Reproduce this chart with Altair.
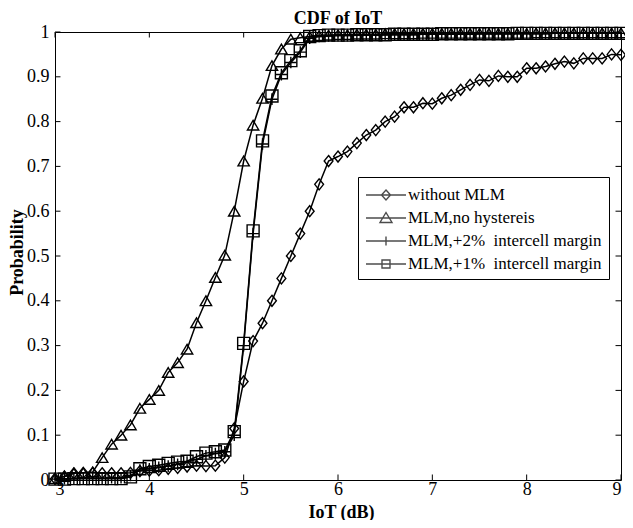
import altair as alt
import pandas as pd

iot_db = [3.0, 3.1, 3.2, 3.3, 3.4, 3.5, 3.6, 3.7, 3.8, 3.9,
          4.0, 4.1, 4.2, 4.3, 4.4, 4.5, 4.6, 4.7, 4.8, 4.9,
          5.0, 5.1, 5.2, 5.3, 5.4, 5.5, 5.6, 5.7, 5.8, 5.9,
          6.0, 6.1, 6.2, 6.3, 6.4, 6.5, 6.6, 6.7, 6.8, 6.9,
          7.0, 7.1, 7.2, 7.3, 7.4, 7.5, 7.6, 7.7, 7.8, 7.9,
          8.0, 8.1, 8.2, 8.3, 8.4, 8.5, 8.6, 8.7, 8.8, 8.9,
          9.0]

without_mlm = [0.003, 0.008, 0.015, 0.016, 0.016, 0.015, 0.015, 0.015, 0.016, 0.020,
               0.021, 0.022, 0.025, 0.027, 0.030, 0.032, 0.031, 0.032, 0.050, 0.115,
               0.220, 0.310, 0.350, 0.400, 0.450, 0.500, 0.550, 0.600, 0.660, 0.712,
               0.722, 0.733, 0.752, 0.770, 0.781, 0.800, 0.811, 0.832, 0.832, 0.841,
               0.840, 0.852, 0.859, 0.871, 0.882, 0.893, 0.891, 0.902, 0.900, 0.900,
               0.919, 0.919, 0.923, 0.929, 0.934, 0.930, 0.941, 0.941, 0.941, 0.950,
               0.949]

mlm_no_hyst = [0.003, 0.008, 0.015, 0.016, 0.018, 0.050, 0.080, 0.100, 0.123, 0.160,
               0.180, 0.200, 0.240, 0.262, 0.292, 0.351, 0.400, 0.452, 0.502, 0.600,
               0.712, 0.792, 0.852, 0.925, 0.962, 0.984, 0.987, 0.990, 0.992, 0.993,
               0.994, 0.994, 0.995, 0.995, 0.995, 0.996, 0.996, 0.996, 0.996, 0.997,
               0.997, 0.997, 0.997, 0.997, 0.997, 0.997, 0.997, 0.997, 0.997, 0.997,
               0.997, 0.998, 0.998, 0.998, 0.998, 0.998, 0.998, 0.998, 0.998, 0.998,
               0.998]

mlm_2pct = [0.002, 0.003, 0.003, 0.004, 0.004, 0.004, 0.005, 0.005, 0.010, 0.022,
            0.025, 0.028, 0.031, 0.035, 0.040, 0.046, 0.054, 0.059, 0.063, 0.100,
            0.300, 0.550, 0.750, 0.850, 0.905, 0.932, 0.955, 0.986, 0.990, 0.991,
            0.992, 0.992, 0.993, 0.993, 0.993, 0.994, 0.994, 0.994, 0.994, 0.995,
            0.995, 0.995, 0.995, 0.995, 0.995, 0.996, 0.996, 0.996, 0.996, 0.996,
            0.996, 0.996, 0.996, 0.997, 0.997, 0.997, 0.997, 0.997, 0.997, 0.997,
            0.997]

mlm_1pct = [0.002, 0.002, 0.003, 0.003, 0.003, 0.003, 0.003, 0.003, 0.007, 0.025,
            0.030, 0.033, 0.037, 0.040, 0.042, 0.052, 0.060, 0.063, 0.067, 0.108,
            0.305, 0.556, 0.757, 0.857, 0.909, 0.936, 0.958, 0.990, 0.992, 0.993,
            0.993, 0.993, 0.994, 0.994, 0.994, 0.994, 0.995, 0.995, 0.995, 0.995,
            0.995, 0.996, 0.996, 0.996, 0.996, 0.996, 0.996, 0.996, 0.996, 0.997,
            0.997, 0.997, 0.997, 0.997, 0.997, 0.997, 0.997, 0.997, 0.997, 0.997,
            0.997]

series_names = ["without MLM", "MLM,no hystereis",
                "MLM,+2%\u00a0 intercell margin", "MLM,+1%\u00a0 intercell margin"]
series_values = [without_mlm, mlm_no_hyst, mlm_2pct, mlm_1pct]

x_ticks = [3, 4, 5, 6, 7, 8, 9]
y_ticks = [0.0, 0.1, 0.2, 0.3, 0.4, 0.5, 0.6, 0.7, 0.8, 0.9, 1.0]

rows = []
for name, vals in zip(series_names, series_values):
    for xv, yv in zip(iot_db, vals):
        rows.append({"series": name, "x": xv, "y": yv})
df = pd.DataFrame(rows)

FONT = "Liberation Serif"

marker_paths = [
    "M0,-1L0.8,0L0,1L-0.8,0Z",
    "M0,-0.85L1,0.85L-1,0.85Z",
    "M-1,0L1,0M0,-1L0,1",
    "M-1,-1L1,-1L1,1L-1,1Z",
]
marker_sizes = [121, 144, 64, 81]
legend_paths = [
    "M-1,0L3,0M1,-0.5L1.45,0L1,0.5L0.55,0Z",
    "M-1,0L3,0M1,-0.55L1.6,0.45L0.4,0.45Z",
    "M-1,0L3,0M1,-0.45L1,0.45",
    "M-1,0L3,0M0.6,-0.4L1.4,-0.4L1.4,0.4L0.6,0.4Z",
]

W, H = 566, 448

xscale = alt.Scale(domain=[3, 9], nice=False, zero=False)
yscale = alt.Scale(domain=[0, 1], nice=False, zero=False)

xaxis = alt.Axis(values=x_ticks, format="d", title="IoT (dB)",
                 ticks=False, domain=False, grid=False,
                 labelPadding=0, titleX=286, titleY=37,
                 titleBaseline="alphabetic")
yaxis = alt.Axis(values=y_ticks, format=".1~f", title="Probability",
                 ticks=False, domain=False, grid=False,
                 labelPadding=6, titleX=-29, titleY=220)

x_enc = alt.X("x:Q", scale=xscale, axis=xaxis)
y_enc = alt.Y("y:Q", scale=yscale, axis=yaxis)

lines = alt.Chart(df).mark_line(color="black", strokeWidth=1.5).encode(
    x=x_enc, y=y_enc, detail="series:N", order="x:Q")

points = alt.Chart(df).mark_point(filled=False, color="black", strokeWidth=1.4, opacity=1).encode(
    x=x_enc, y=y_enc,
    shape=alt.Shape("series:N", scale=alt.Scale(domain=series_names, range=marker_paths), legend=None),
    size=alt.Size("series:N", scale=alt.Scale(domain=series_names, range=marker_sizes), legend=None),
)

legend_layer = alt.Chart(df).transform_filter("datum.y > 2").mark_point(
    filled=False, color="black", strokeWidth=1.4).encode(
    x=x_enc, y=y_enc,
    shape=alt.Shape("series:N", title=None,
                    scale=alt.Scale(domain=series_names, range=legend_paths),
                    legend=alt.Legend(orient="none", legendX=303, legendY=145,
                                      strokeColor="black", fillColor="white",
                                      padding=7, cornerRadius=0,
                                      symbolSize=400, symbolStrokeWidth=1.4,
                                      labelFont=FONT, labelFontSize=17, labelColor="black",
                                      labelOffset=21, rowPadding=4, labelLimit=400)),
)

xt = pd.DataFrame({"x": x_ticks})
yt = pd.DataFrame({"y": y_ticks})
tx = 0.058
ty = 0.0123
bottom_ticks = alt.Chart(xt).mark_rule(color="black", strokeWidth=1).encode(
    x=alt.X("x:Q", scale=xscale, axis=xaxis),
    y=alt.Y(datum=0, scale=yscale, axis=yaxis), y2=alt.Y2(datum=ty))
top_ticks = alt.Chart(xt).mark_rule(color="black", strokeWidth=1).encode(
    x=alt.X("x:Q", scale=xscale, axis=xaxis),
    y=alt.Y(datum=1, scale=yscale, axis=yaxis), y2=alt.Y2(datum=1 - ty))
left_ticks = alt.Chart(yt).mark_rule(color="black", strokeWidth=1).encode(
    y=alt.Y("y:Q", scale=yscale, axis=yaxis),
    x=alt.X(datum=3, scale=xscale, axis=xaxis), x2=alt.X2(datum=3 + tx))
right_ticks = alt.Chart(yt).mark_rule(color="black", strokeWidth=1).encode(
    y=alt.Y("y:Q", scale=yscale, axis=yaxis),
    x=alt.X(datum=9, scale=xscale, axis=xaxis), x2=alt.X2(datum=9 - tx))

chart = alt.layer(
    lines, points, legend_layer, bottom_ticks, top_ticks, left_ticks, right_ticks
).resolve_scale(
    shape="independent", size="independent"
).properties(
    width=W, height=H,
    autosize=alt.AutoSizeParams(type="none"),
    padding={"left": 47, "top": 24, "right": 4, "bottom": 40},
    title=alt.TitleParams("CDF of IoT", font=FONT, fontSize=18, fontWeight="bold",
                          color="black", offset=2, dy=7, anchor="middle", frame="group"),
).configure_view(
    stroke="black", strokeWidth=1
).configure_axis(
    labelFont=FONT, labelFontSize=18, labelColor="black",
    titleFont=FONT, titleFontSize=18, titleFontWeight="bold", titleColor="black"
)

chart.save("out.html", embed_options={"renderer": "svg", "actions": False})
